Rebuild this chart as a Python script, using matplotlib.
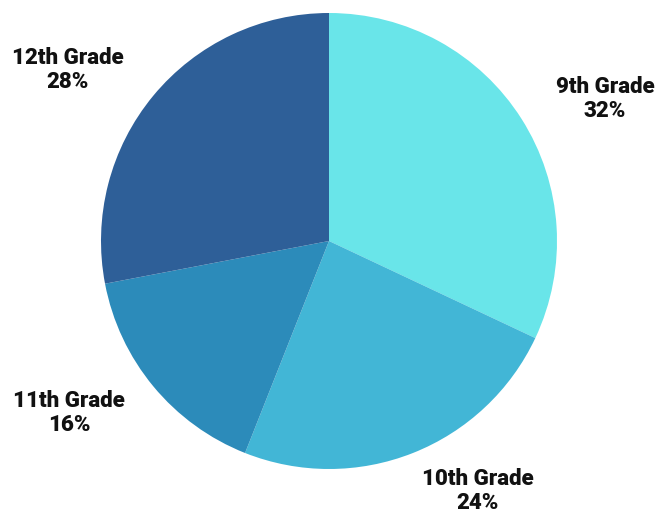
import matplotlib.pyplot as plt

grades = ['9th Grade', '10th Grade', '11th Grade', '12th Grade']
shares = [32, 24, 16, 28]
colors = ['#69E5E9', '#42B6D6', '#2C8BBA', '#2E5F98']

# label centres in pixels (x, y from top)
label_pos = [(605, 99), (478, 491), (69, 413), (68, 70)]

W, H = 660, 514
fig = plt.figure(figsize=(W / 100, H / 100), dpi=100)
ax = fig.add_axes([0, 0, 1, 1])

ax.pie(shares, colors=colors, startangle=90, counterclock=False,
       center=(329, H - 241), radius=228, frame=True,
       wedgeprops=dict(linewidth=0))
ax.set_xlim(0, W)
ax.set_ylim(0, H)
ax.set_aspect('equal')
ax.axis('off')

for g, s, (x, y) in zip(grades, shares, label_pos):
    ax.text(x, H - y, '{}\n{}%'.format(g, s), ha='center', va='center',
            fontsize=16, fontweight=900, family='Roboto',
            linespacing=1.15, color='#111111')

fig.savefig('out.png', dpi=100)
